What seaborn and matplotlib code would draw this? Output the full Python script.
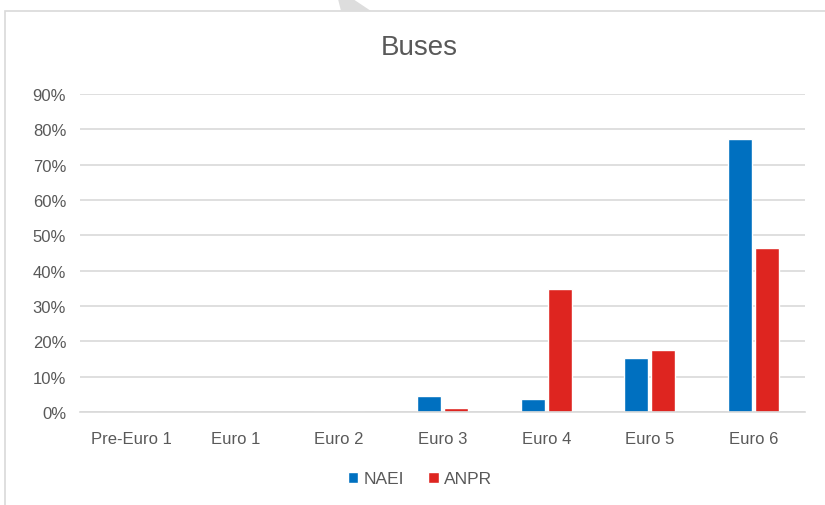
import pandas as pd
import seaborn as sns
import matplotlib.pyplot as plt
from matplotlib.patches import Rectangle, Polygon
from matplotlib.ticker import PercentFormatter

# Data
categories = ["Pre-Euro 1", "Euro 1", "Euro 2", "Euro 3", "Euro 4", "Euro 5", "Euro 6"]
naei = [0.0, 0.0, 0.0, 0.045, 0.037, 0.152, 0.774]
anpr = [0.0, 0.0, 0.0, 0.010, 0.348, 0.175, 0.465]
series = ["NAEI", "ANPR"]
colors = {"NAEI": "#0070C0", "ANPR": "#DE2520"}

df = pd.DataFrame({
    "cat": categories * 2,
    "share": naei + anpr,
    "series": [series[0]] * len(categories) + [series[1]] * len(categories),
})

sns.set_style("white")
plt.rcParams["font.family"] = ["Liberation Sans", "DejaVu Sans"]
text_grey = "#595959"

fig = plt.figure(figsize=(8.25, 5.06), dpi=100)
ax = fig.add_axes([0.097, 0.184, 0.879, 0.628])

# chart frame and decorative stripe
fig.patches.append(Rectangle((5 / 825, -0.01), 1.0, 1 - 12 / 506 + 0.01,
                             transform=fig.transFigure, fill=False,
                             edgecolor="#D9D9D9", linewidth=1.2))
fig.patches.append(Polygon([(338 / 825, 1.0), (353 / 825, 1.0), (371 / 825, 1 - 12 / 506),
                            (341 / 825, 1 - 12 / 506)], closed=True,
                           transform=fig.transFigure, facecolor="#DDDDDD", edgecolor="none"))

sns.barplot(data=df, x="cat", y="share", hue="series", palette=colors,
            width=0.52, gap=0.1, saturation=1, ax=ax, legend=True)

ax.set_ylim(0, 0.9)
ax.set_yticks([i / 10 for i in range(10)])
ax.yaxis.set_major_formatter(PercentFormatter(1.0, decimals=0))
ax.grid(axis="y", color="#D9D9D9", linewidth=1.2)
ax.set_axisbelow(True)
for side in ["top", "right", "left"]:
    ax.spines[side].set_visible(False)
ax.spines["bottom"].set_color("#D9D9D9")
ax.spines["bottom"].set_linewidth(1.2)
ax.tick_params(axis="both", length=0, labelsize=12, colors=text_grey)
ax.tick_params(axis="x", pad=14)
ax.tick_params(axis="y", pad=10)
ax.set_xlabel("")
ax.set_ylabel("")
fig.text(419 / 825, 1 - 48 / 506, "Buses", fontsize=20, color=text_grey,
         ha="center", va="center")

handles, labels = ax.get_legend_handles_labels()
ax.legend(handles, labels, loc="center", bbox_to_anchor=(420 / 825, 26 / 506),
          bbox_transform=fig.transFigure, ncol=2, frameon=False,
          fontsize=12.5, labelcolor=text_grey, handlelength=0.6, handleheight=0.6,
          handletextpad=0.3, columnspacing=1.4)

fig.savefig("out.png", dpi=100, facecolor="white")
